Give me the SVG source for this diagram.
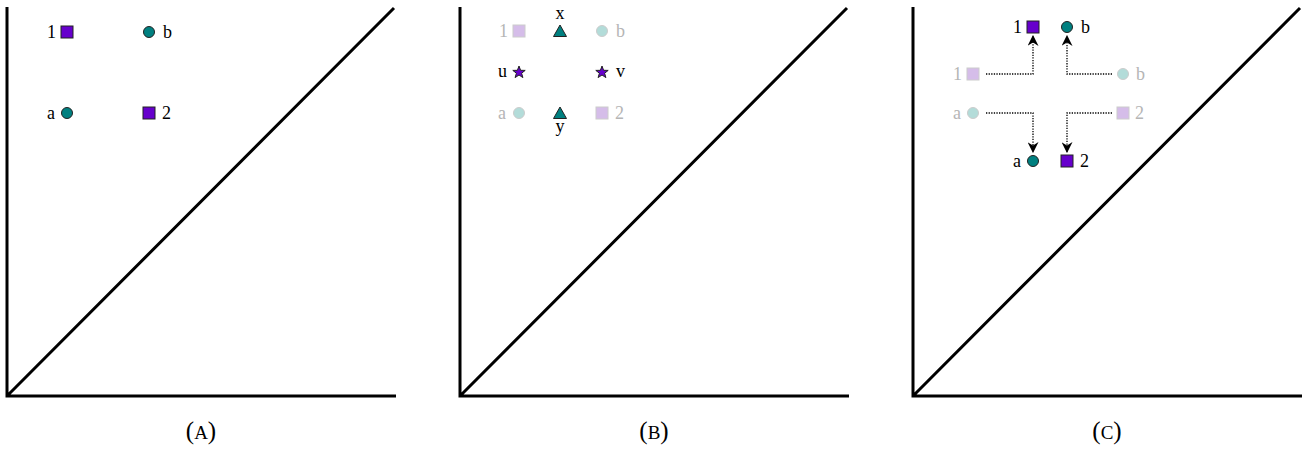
<svg xmlns="http://www.w3.org/2000/svg" width="1309" height="450" viewBox="0 0 1309 450">
<defs>
<style>
.ax{fill:none;stroke:#000;stroke-width:3;stroke-linecap:butt}
.sq{fill:#6600cc;stroke:#222;stroke-width:1}
.ci{fill:#008080;stroke:#222;stroke-width:1}
.fsq{fill:#d5bde9;stroke:#ccc;stroke-width:1}
.fci{fill:#b3dcd9;stroke:#ccc;stroke-width:1}
.tri{fill:#008080;stroke:#222;stroke-width:1}
.st{fill:#6600cc;stroke:#222;stroke-width:1}
.t{font-family:"Liberation Serif",serif;font-size:18px;fill:#000}
.ft{font-family:"Liberation Serif",serif;font-size:18px;fill:#b5b5b5}
.cap{font-family:"Liberation Serif",serif;font-size:25px;fill:#000}
.dl{fill:none;stroke:#000;stroke-width:1.3;stroke-dasharray:1.3 1.3}
</style>
<marker id="ar" viewBox="0 0 10 10" refX="9" refY="5" markerWidth="11" markerHeight="11" markerUnits="userSpaceOnUse" orient="auto">
<path d="M0,0 L10,5 L0,10 L3,5 Z" fill="#000"/>
</marker>
</defs>
<g id="panelA">
<path class="ax" d="M7,7 V396 H396 M7,396 L394,8"/>
<g id="A1"><rect class="sq" x="61" y="26" width="12" height="12"/><text class="t" x="47" y="38">1</text></g>
<g id="Ab"><circle class="ci" cx="149" cy="32" r="5.5"/><text class="t" x="163" y="38">b</text></g>
<g id="Aa"><circle class="ci" cx="67" cy="113" r="5.5"/><text class="t" x="47" y="119">a</text></g>
<g id="A2"><rect class="sq" x="143" y="107" width="12" height="12"/><text class="t" x="162" y="119">2</text></g>
<text class="cap" x="201" y="439" text-anchor="middle">(<tspan font-size="19">A</tspan>)</text>
</g>
<g id="panelB">
<path class="ax" d="M460,7 V396 H849 M460,396 L847,8"/>
<g id="B1"><rect class="fsq" x="513" y="25" width="12" height="12"/><text class="ft" x="499" y="37">1</text></g>
<g id="Bx"><polygon class="tri" points="560,25 566.5,36.5 553.5,36.5"/><text class="t" x="560" y="19" text-anchor="middle">x</text></g>
<g id="Bb"><circle class="fci" cx="602" cy="31" r="5.5"/><text class="ft" x="616" y="37">b</text></g>
<g id="Bu"><polygon class="st" points="519,66 520.6,70.3 525.2,70.4 521.6,73.2 522.9,77.6 519,75 515.1,77.6 516.4,73.2 512.8,70.4 517.4,70.3"/><text class="t" x="498" y="77">u</text></g>
<g id="Bv"><polygon class="st" points="602,66 603.6,70.3 608.2,70.4 604.6,73.2 605.9,77.6 602,75 598.1,77.6 599.4,73.2 595.8,70.4 600.4,70.3"/><text class="t" x="616" y="77">v</text></g>
<g id="Ba"><circle class="fci" cx="519" cy="113" r="5.5"/><text class="ft" x="498" y="119">a</text></g>
<g id="By"><polygon class="tri" points="560,107 566.5,118.5 553.5,118.5"/><text class="t" x="560" y="132" text-anchor="middle">y</text></g>
<g id="B2"><rect class="fsq" x="596" y="107" width="12" height="12"/><text class="ft" x="615" y="119">2</text></g>
<text class="cap" x="654" y="439" text-anchor="middle">(<tspan font-size="19">B</tspan>)</text>
</g>
<g id="panelC">
<path class="ax" d="M913,7 V396 H1302 M913,396 L1300,8"/>
<g id="C1"><rect class="sq" x="1027" y="21" width="12" height="12"/><text class="t" x="1013" y="33">1</text></g>
<g id="Cb"><circle class="ci" cx="1067" cy="27" r="5.5"/><text class="t" x="1081" y="33">b</text></g>
<g id="C1f"><rect class="fsq" x="967" y="68" width="12" height="12"/><text class="ft" x="953" y="80">1</text></g>
<g id="Cbf"><circle class="fci" cx="1123" cy="74" r="5.5"/><text class="ft" x="1136" y="80">b</text></g>
<g id="Caf"><circle class="fci" cx="973" cy="113" r="5.5"/><text class="ft" x="953" y="119">a</text></g>
<g id="C2f"><rect class="fsq" x="1117" y="107" width="12" height="12"/><text class="ft" x="1135" y="119">2</text></g>
<g id="Ca"><circle class="ci" cx="1033" cy="161" r="5.5"/><text class="t" x="1013" y="167">a</text></g>
<g id="C2"><rect class="sq" x="1061" y="155" width="12" height="12"/><text class="t" x="1080" y="167">2</text></g>
<text class="cap" x="1107" y="439" text-anchor="middle">(<tspan font-size="19">C</tspan>)</text>
</g>
<g id="connectors">
<path class="dl" marker-end="url(#ar)" d="M986,74 H1033 V36"/>
<path class="dl" marker-end="url(#ar)" d="M1112,74 H1067 V36"/>
<path class="dl" marker-end="url(#ar)" d="M986,113 H1033 V152"/>
<path class="dl" marker-end="url(#ar)" d="M1112,113 H1067 V152"/>
</g>
</svg>
